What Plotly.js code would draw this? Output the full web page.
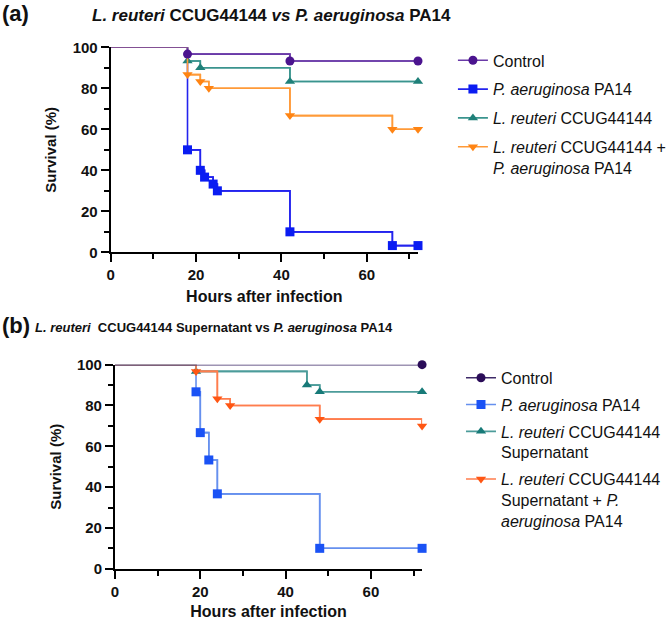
<!DOCTYPE html>
<html>
<head>
<meta charset="utf-8">
<script src="https://cdn.plot.ly/plotly-3.0.1.min.js"></script>
<style>html,body{margin:0;padding:0;background:#fff;}#chart{width:672px;height:620px;}</style>
</head>
<body>
<div id="chart"></div>
<script>
// ---------- Panel (a) data ----------
const hoursA_control = [0, 18, 42, 72];
const survA_control  = [100, 96.7, 93.3, 93.3];
const hoursA_pa = [0, 18, 21, 22, 24, 25, 42, 66, 72];
const survA_pa  = [100, 50, 40, 36.7, 33.3, 30, 10, 3.3, 3.3];
const hoursA_lr = [0, 18, 21, 42, 72];
const survA_lr  = [100, 93.3, 90, 83.3, 83.3];
const hoursA_combo = [0, 18, 21, 23, 42, 66, 72];
const survA_combo  = [100, 86.7, 83.3, 80, 66.7, 60, 60];

// ---------- Panel (b) data ----------
const hoursB_control = [0, 72];
const survB_control  = [100, 100];
const hoursB_pa = [0, 19, 20, 22, 24, 48, 72];
const survB_pa  = [100, 86.7, 66.7, 53.3, 36.7, 10, 10];
const hoursB_lr = [0, 19, 45, 48, 72];
const survB_lr  = [100, 96.7, 90, 86.7, 86.7];
const hoursB_combo = [0, 19, 24, 27, 48, 72];
const survB_combo  = [100, 96.7, 83.3, 80, 73.3, 70];

const namesA = ["Control", "<i>P. aeruginosa</i> PA14", "<i>L. reuteri</i> CCUG44144",
  "<i>L. reuteri</i> CCUG44144 +<br><i>P. aeruginosa</i> PA14"];
const namesB = ["Control", "<i>P. aeruginosa</i> PA14", "<i>L. reuteri</i> CCUG44144<br>Supernatant",
  "<i>L. reuteri</i> CCUG44144<br>Supernatant + <i>P.</i><br><i>aeruginosa</i> PA14"];

const seriesA = [
  {x: hoursA_control, y: survA_control, name: namesA[0], lc: "#6a3aa8", mc: "#4b148f", sym: "circle", ms: 9},
  {x: hoursA_pa, y: survA_pa, name: namesA[1], lc: "#2323ee", mc: "#0a1cf2", sym: "square", ms: 9},
  {x: hoursA_lr, y: survA_lr, name: namesA[2], lc: "#3a948e", mc: "#1f8079", sym: "triangle-up", ms: 9},
  {x: hoursA_combo, y: survA_combo, name: namesA[3], lc: "#ff9a38", mc: "#ff8413", sym: "triangle-down", ms: 9}
];
const seriesB = [
  {x: hoursB_control, y: survB_control, name: namesB[0], lc: "#3e2a68", mc: "#2a0c58", sym: "circle", ms: 9},
  {x: hoursB_pa, y: survB_pa, name: namesB[1], lc: "#6690ee", mc: "#1a52f5", sym: "square", ms: 9},
  {x: hoursB_lr, y: survB_lr, name: namesB[2], lc: "#4c9c9a", mc: "#177a78", sym: "triangle-up", ms: 9},
  {x: hoursB_combo, y: survB_combo, name: namesB[3], lc: "#ff7d4d", mc: "#ff5613", sym: "triangle-down", ms: 9}
];

const traces = [];
// draw order: control last so it sits on top; legend order via legendrank
const drawOrder = [1, 2, 3, 0];
function addSeries(list, xa, ya, leg) {
  drawOrder.forEach((i) => {
    const s = list[i];
    traces.push({
      x: s.x, y: s.y, xaxis: xa, yaxis: ya, type: "scatter", mode: "lines",
      line: {shape: "hv", color: s.lc, width: 1.6}, showlegend: false,
      legendgroup: leg + i, legend: leg, legendrank: i + 1, hoverinfo: "skip"
    });
    traces.push({
      x: s.x.slice(1), y: s.y.slice(1), xaxis: xa, yaxis: ya, type: "scatter", mode: "lines+markers",
      name: s.name, line: {shape: "hv", color: s.lc, width: 1.6},
      marker: {symbol: s.sym, color: s.mc, size: s.ms}, cliponaxis: false,
      legendgroup: leg + i, legend: leg, legendrank: i + 1
    });
  });
}
addSeries(seriesA, "x", "y", "legend");
addSeries(seriesB, "x2", "y2", "legend2");

const FONT = "Liberation Sans, Arial, sans-serif";
function xAxis(domain, anchor) {
  return {
    domain: domain, anchor: anchor, range: [0, 72], showgrid: false, zeroline: false,
    showline: true, linecolor: "#000", linewidth: 2,
    ticks: "outside", ticklen: 8, tickwidth: 2, tickcolor: "#000", tick0: 0, dtick: 20,
    minor: {ticks: "outside", dtick: 10, ticklen: 5, tickwidth: 2, tickcolor: "#000"},
    tickfont: {family: FONT, size: 15, color: "#111", weight: "bold"},
    title: {text: "Hours after infection", standoff: 8, font: {family: FONT, size: 16, color: "#111", weight: "bold"}}
  };
}
function yAxis(domain, anchor) {
  return {
    domain: domain, anchor: anchor, range: [0, 100], showgrid: false, zeroline: false,
    showline: true, linecolor: "#000", linewidth: 2,
    ticks: "outside", ticklen: 8, tickwidth: 2, tickcolor: "#000", tick0: 0, dtick: 20,
    minor: {ticks: "outside", dtick: 10, ticklen: 5, tickwidth: 2, tickcolor: "#000"},
    tickfont: {family: FONT, size: 15, color: "#111", weight: "bold"},
    title: {text: "Survival (%)", standoff: 12, font: {family: FONT, size: 15, color: "#111", weight: "bold"}}
  };
}

const legFont = {family: FONT, size: 16, color: "#111"};
const layout = {
  width: 672, height: 620,
  margin: {l: 0, r: 0, t: 0, b: 0},
  paper_bgcolor: "#fff", plot_bgcolor: "#fff",
  showlegend: true,
  xaxis: xAxis([0.1647, 0.622], "y"),
  yaxis: yAxis([0.593, 0.9237], "x"),
  xaxis2: xAxis([0.1711, 0.6281], "y2"),
  yaxis2: yAxis([0.0827, 0.4118], "x2"),
  legend: {x: 0.674, y: 0.93, xanchor: "left", yanchor: "top", font: legFont, valign: "top",
    bgcolor: "rgba(0,0,0,0)", itemwidth: 30, traceorder: "grouped", tracegroupgap: 5},
  legend2: {x: 0.686, y: 0.418, xanchor: "left", yanchor: "top", font: legFont, valign: "top",
    bgcolor: "rgba(0,0,0,0)", itemwidth: 30, traceorder: "grouped", tracegroupgap: 3},
  annotations: [
    {text: "<b>(a)</b>", xref: "paper", yref: "paper", x: 0, y: 1 - 13/620, xanchor: "left", yanchor: "middle",
      showarrow: false, font: {family: FONT, size: 22, color: "#111"}},
    {text: "<b><i>L. reuteri</i> CCUG44144 <i>vs P. aeruginosa</i> PA14</b>", xref: "paper", yref: "paper",
      x: 90/672, y: 1 - 16/620, xanchor: "left", yanchor: "middle", showarrow: false,
      font: {family: FONT, size: 17, color: "#111"}},
    {text: "<b>(b)</b>", xref: "paper", yref: "paper", x: 0, y: 1 - 325/620, xanchor: "left", yanchor: "middle",
      showarrow: false, font: {family: FONT, size: 22, color: "#111"}},
    {text: "<b><i>L. reuteri</i>  CCUG44144 Supernatant vs <i>P. aeruginosa</i> PA14</b>", xref: "paper", yref: "paper",
      x: 33/672, y: 1 - 327/620, xanchor: "left", yanchor: "middle", showarrow: false,
      font: {family: FONT, size: 13, color: "#111"}}
  ]
};

Plotly.newPlot("chart", traces, layout, {displayModeBar: false, staticPlot: true});
</script>
</body>
</html>
